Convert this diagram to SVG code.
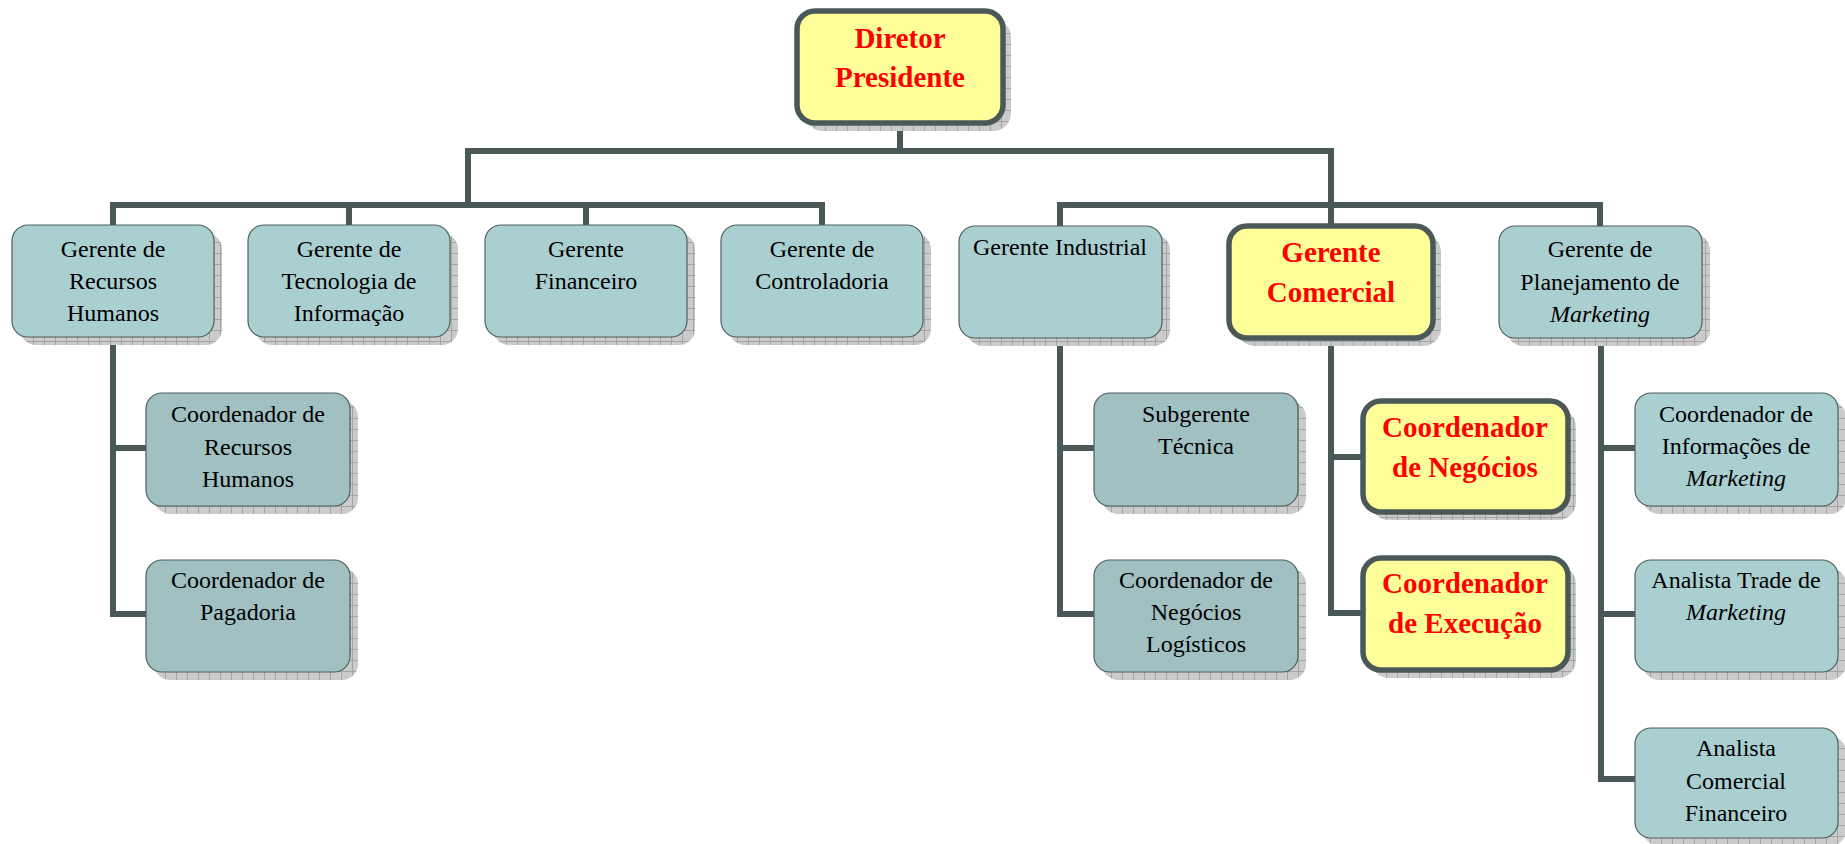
<svg xmlns="http://www.w3.org/2000/svg" width="1845" height="844" viewBox="0 0 1845 844">
  <defs>
    <!-- hatched drop-shadow texture -->
    <pattern id="hatch" width="11" height="11" patternUnits="userSpaceOnUse">
      <rect width="11" height="11" fill="#cbcbcb"/>
      <path d="M0 0.5H11M0.5 0V11" stroke="#a4a4a4" stroke-width="1"/>
    </pattern>
    <style>
      .shadow { fill: url(#hatch); }
      .mgr { fill: #aacfd1; stroke: #4f5f5f; stroke-width: 1.2; }
      .sub { fill: #a0c0c2; stroke: #4f5f5f; stroke-width: 1.2; }
      .key { fill: #ffff99; stroke: #4a5858; stroke-width: 5.5; }
      .t { font-family: "Liberation Serif", "Times New Roman", serif; font-size: 24px; fill: #000; text-anchor: middle; }
      .k { font-family: "Liberation Serif", "Times New Roman", serif; font-size: 29px; font-weight: bold; fill: #ff0000; text-anchor: middle; }
      .i { font-style: italic; }
      .wire { fill: none; stroke: #4a5858; stroke-width: 6; stroke-linejoin: miter; stroke-linecap: square; }
    </style>
  </defs>
  <rect width="1845" height="844" fill="#ffffff"/>

  <!-- connectors -->
  <g id="connectors" class="wire">
    <path d="M900 123V151M468 151H1331M468 151V205M113 205H822M113 205V225M349 205V225M586 205V225M822 205V225"/>
    <path d="M1331 151V226M1060 205H1600M1060 205V225M1600 205V225"/>
    <path d="M113 337V614M113 448H146M113 614H146"/>
    <path d="M1060 338V614M1060 448H1094M1060 614H1094"/>
    <path d="M1331 338V613M1331 457H1363M1331 613H1363"/>
    <path d="M1601 338V779M1601 448H1635M1601 614H1635M1601 779H1635"/>
  </g>

  <!-- top -->
  <g id="diretor-presidente">
    <rect class="shadow" x="805" y="19" width="206" height="112" rx="18"/>
    <rect class="key" x="797" y="11" width="206" height="112" rx="18"/>
    <text class="k" x="900" y="48">Diretor</text>
    <text class="k" x="900" y="87">Presidente</text>
  </g>

  <!-- managers -->
  <g id="gerente-rh">
    <rect class="shadow" x="20" y="233" width="202" height="112" rx="16"/>
    <rect class="mgr" x="12" y="225" width="202" height="112" rx="16"/>
    <text class="t" x="113" y="257">Gerente de</text>
    <text class="t" x="113" y="289">Recursos</text>
    <text class="t" x="113" y="321">Humanos</text>
  </g>
  <g id="gerente-ti">
    <rect class="shadow" x="256" y="233" width="202" height="112" rx="16"/>
    <rect class="mgr" x="248" y="225" width="202" height="112" rx="16"/>
    <text class="t" x="349" y="257">Gerente de</text>
    <text class="t" x="349" y="289">Tecnologia de</text>
    <text class="t" x="349" y="321">Informação</text>
  </g>
  <g id="gerente-financeiro">
    <rect class="shadow" x="493" y="233" width="202" height="112" rx="16"/>
    <rect class="mgr" x="485" y="225" width="202" height="112" rx="16"/>
    <text class="t" x="586" y="257">Gerente</text>
    <text class="t" x="586" y="289">Financeiro</text>
  </g>
  <g id="gerente-controladoria">
    <rect class="shadow" x="729" y="233" width="202" height="112" rx="16"/>
    <rect class="mgr" x="721" y="225" width="202" height="112" rx="16"/>
    <text class="t" x="822" y="257">Gerente de</text>
    <text class="t" x="822" y="289">Controladoria</text>
  </g>
  <g id="gerente-industrial">
    <rect class="shadow" x="967" y="234" width="203" height="112" rx="16"/>
    <rect class="mgr" x="959" y="226" width="203" height="112" rx="16"/>
    <text class="t" x="1060" y="255">Gerente Industrial</text>
  </g>
  <g id="gerente-comercial">
    <rect class="shadow" x="1237" y="234" width="204" height="112" rx="18"/>
    <rect class="key" x="1229" y="226" width="204" height="112" rx="18"/>
    <text class="k" x="1331" y="262">Gerente</text>
    <text class="k" x="1331" y="302">Comercial</text>
  </g>
  <g id="gerente-planejamento-marketing">
    <rect class="shadow" x="1507" y="234" width="203" height="112" rx="16"/>
    <rect class="mgr" x="1499" y="226" width="203" height="112" rx="16"/>
    <text class="t" x="1600" y="257">Gerente de</text>
    <text class="t" x="1600" y="290">Planejamento de</text>
    <text class="t i" x="1600" y="322">Marketing</text>
  </g>

  <!-- human resources -->
  <g id="coordenador-rh">
    <rect class="shadow" x="154" y="401" width="204" height="113" rx="16"/>
    <rect class="sub" x="146" y="393" width="204" height="113" rx="16"/>
    <text class="t" x="248" y="422">Coordenador de</text>
    <text class="t" x="248" y="455">Recursos</text>
    <text class="t" x="248" y="487">Humanos</text>
  </g>
  <g id="coordenador-pagadoria">
    <rect class="shadow" x="154" y="568" width="204" height="112" rx="16"/>
    <rect class="sub" x="146" y="560" width="204" height="112" rx="16"/>
    <text class="t" x="248" y="588">Coordenador de</text>
    <text class="t" x="248" y="620">Pagadoria</text>
  </g>

  <!-- industrial -->
  <g id="subgerente-tecnica">
    <rect class="shadow" x="1102" y="401" width="204" height="113" rx="16"/>
    <rect class="sub" x="1094" y="393" width="204" height="113" rx="16"/>
    <text class="t" x="1196" y="422">Subgerente</text>
    <text class="t" x="1196" y="454">Técnica</text>
  </g>
  <g id="coordenador-negocios-logisticos">
    <rect class="shadow" x="1102" y="568" width="204" height="112" rx="16"/>
    <rect class="sub" x="1094" y="560" width="204" height="112" rx="16"/>
    <text class="t" x="1196" y="588">Coordenador de</text>
    <text class="t" x="1196" y="620">Negócios</text>
    <text class="t" x="1196" y="652">Logísticos</text>
  </g>

  <!-- commercial -->
  <g id="coordenador-negocios">
    <rect class="shadow" x="1371" y="409" width="205" height="111" rx="18"/>
    <rect class="key" x="1363" y="401" width="205" height="111" rx="18"/>
    <text class="k" x="1465" y="437">Coordenador</text>
    <text class="k" x="1465" y="477">de Negócios</text>
  </g>
  <g id="coordenador-execucao">
    <rect class="shadow" x="1371" y="566" width="205" height="112" rx="18"/>
    <rect class="key" x="1363" y="558" width="205" height="112" rx="18"/>
    <text class="k" x="1465" y="593">Coordenador</text>
    <text class="k" x="1465" y="633">de Execução</text>
  </g>

  <!-- marketing planning -->
  <g id="coordenador-informacoes-marketing">
    <rect class="shadow" x="1643" y="401" width="203" height="113" rx="16"/>
    <rect class="mgr" x="1635" y="393" width="203" height="113" rx="16"/>
    <text class="t" x="1736" y="422">Coordenador de</text>
    <text class="t" x="1736" y="454">Informações de</text>
    <text class="t i" x="1736" y="486">Marketing</text>
  </g>
  <g id="analista-trade-marketing">
    <rect class="shadow" x="1643" y="568" width="203" height="112" rx="16"/>
    <rect class="mgr" x="1635" y="560" width="203" height="112" rx="16"/>
    <text class="t" x="1736" y="588">Analista Trade de</text>
    <text class="t i" x="1736" y="620">Marketing</text>
  </g>
  <g id="analista-comercial-financeiro">
    <rect class="shadow" x="1643" y="736" width="203" height="110" rx="16"/>
    <rect class="mgr" x="1635" y="728" width="203" height="110" rx="16"/>
    <text class="t" x="1736" y="756">Analista</text>
    <text class="t" x="1736" y="789">Comercial</text>
    <text class="t" x="1736" y="821">Financeiro</text>
  </g>
</svg>
